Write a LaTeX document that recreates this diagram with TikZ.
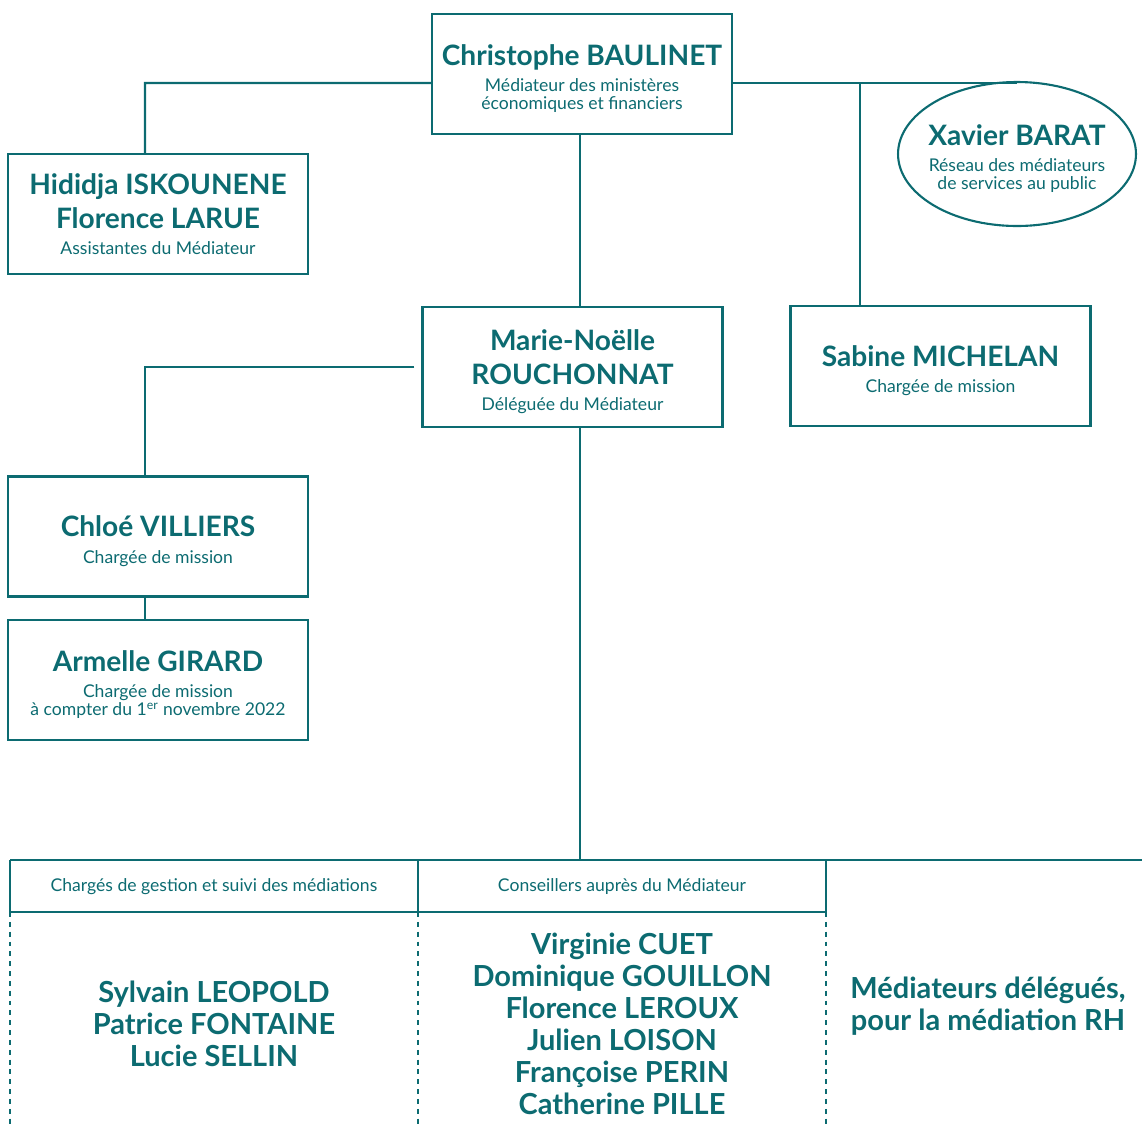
\documentclass[tikz,border=0pt]{standalone}
\usepackage{fontspec}
\setmainfont{Lato}
\usetikzlibrary{shapes.geometric}
\definecolor{mteal}{HTML}{0C6B71}
\newcommand{\nm}{\fontsize{16}{19.4}\selectfont\bfseries}
\newcommand{\sub}{\fontsize{10}{10.2}\selectfont\mdseries}
\newcommand{\lst}{\fontsize{16.5}{18.2}\selectfont\bfseries}
\newcommand{\tp}{\rule{0pt}{17pt}}

\begin{document}
\begin{tikzpicture}[x=0.02cm,y=-0.02cm,line width=1.2pt,draw=mteal,text=mteal,
      person/.style={draw,rectangle,minimum width=6cm,minimum height=2.4cm,align=center,inner sep=0pt,font=\nm},
      cell/.style={align=center,inner sep=0pt}]
    \useasboundingbox (0,0) rectangle (1142,1127);
    % boxes
    \node[person] (Baulinet) at (582,74) {\tp Christophe BAULINET\\[-4.4pt]\sub Médiateur des ministères\\[-9.2pt]\sub économiques et financiers};
    \node[person] (Hididja) at (158,214) {Hididja ISKOUNENE\\Florence LARUE\\[-4.4pt]\sub Assistantes du Médiateur};
    \node[draw,ellipse,minimum width=4.76cm,minimum height=2.88cm,align=center,inner xsep=-0.2cm,inner ysep=-0.3cm,font=\nm] (Xavier) at (1017,154)
        {\tp Xavier BARAT\\[-4.4pt]\sub Réseau des médiateurs\\[-9.2pt]\sub de services au public};
    \node[person] (Marie) at (572.5,367) {\tp Marie-Noëlle\\ROUCHONNAT\\[-4.4pt]\sub Déléguée du Médiateur};
    \node[person] (Sabine) at (940.5,366) {\tp Sabine MICHELAN\\[-4.4pt]\sub Chargée de mission};
    \node[person] (Chloe) at (158,536.5) {\tp Chloé VILLIERS\\[-4.4pt]\sub Chargée de mission};
    \node[person] (Armelle) at (158,680) {\tp Armelle GIRARD\\[-4.4pt]\sub Chargée de mission\\[-9.2pt]\sub à compter du 1\textsuperscript{er} novembre 2022};
    % junctions
    \coordinate (jl) at (145,83);
    \coordinate (jr) at (860,83);
    \coordinate (jm) at (145,367);
    \coordinate (top) at (580,860);
    % connectors
    \draw ([yshift=-0.18cm]Baulinet.west) -- (jl) -- (jl |- Hididja.north);
    \draw ([yshift=-0.18cm]Baulinet.east) -- ([yshift=-0.18cm]Baulinet.east -| Xavier.north);
    \draw (jr) -- (jr |- Sabine.north);
    \draw (top |- Baulinet.south) -- (top |- Marie.north);
    \draw ([xshift=-0.14cm]Marie.west) -- (jm) -- (jm |- Chloe.north);
    \draw (jm |- Chloe.south) -- (jm |- Armelle.north);
    \draw (top |- Marie.south) -- (top);
    % table
    \draw (10,860) -- (1142,860);
    \draw (10,912) -- (826,912);
    \foreach \x in {10,418,826} {
      \draw (\x,860) -- (\x,912);
      \draw[dash pattern=on 2.8pt off 2.8pt] (\x,912) -- (\x,1127);
    }
    \node[cell,font=\sub] (hgest) at (214,887) {Chargés de gestion et suivi des médiations};
    \node[cell,font=\sub] (hcons) at (622,887) {Conseillers auprès du Médiateur};
    \node[cell,font=\lst] (gest) at (214,1024) {Sylvain LEOPOLD\\Patrice FONTAINE\\Lucie SELLIN};
    \node[cell,font=\lst] (cons) at (622,1024) {Virginie CUET\\Dominique GOUILLON\\Florence LEROUX\\Julien LOISON\\Françoise PERIN\\Catherine PILLE};
    \node[cell,font=\lst] (deleg) at (988,1006) {Médiateurs délégués,\\pour la médiation RH};
\end{tikzpicture}
\end{document}
